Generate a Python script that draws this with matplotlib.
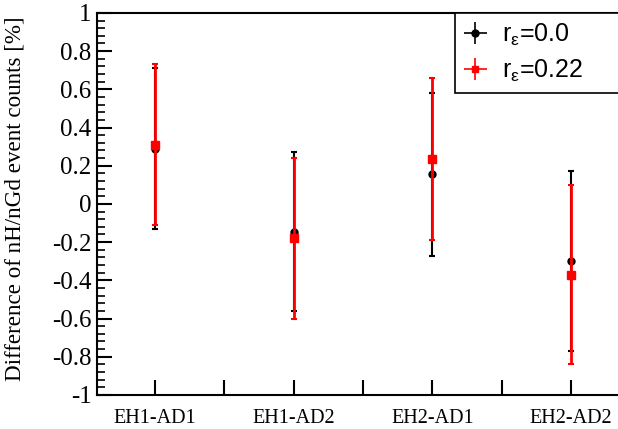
import numpy as np
import matplotlib
matplotlib.use('Agg')
import matplotlib.pyplot as plt
from matplotlib.ticker import MultipleLocator
from matplotlib.legend_handler import HandlerErrorbar
from matplotlib.patches import Rectangle

plt.rcParams['mathtext.fontset'] = 'custom'
plt.rcParams['mathtext.rm'] = 'Liberation Sans'
plt.rcParams['mathtext.it'] = 'Liberation Sans'

# values
labels = ['EH1-AD1', 'EH1-AD2', 'EH2-AD1', 'EH2-AD2']
diff_r0 = [0.29, -0.145, 0.155, -0.30]
err_r0 = [0.42, 0.415, 0.425, 0.47]
diff_r22 = [0.31, -0.18, 0.235, -0.37]
err_r22 = [0.42, 0.42, 0.425, 0.47]

x = np.arange(len(labels))

fig = plt.figure(figsize=(6.18, 4.29), dpi=100)
ax = fig.add_axes([0.157, 0.0793, 0.843, 0.8907])

ax.errorbar(x, diff_r0, yerr=err_r0, fmt='o', color='black', ms=5,
            elinewidth=1.5, capsize=2.5, capthick=1.5, zorder=3)
ax.errorbar(x, diff_r22, yerr=err_r22, fmt='s', color='red', ms=5.5,
            elinewidth=2, capsize=2.5, capthick=1.5, zorder=4)

# proxies for the ROOT-style "lep" legend entries (cross + marker)
h0 = ax.errorbar([], [], xerr=[], yerr=[], fmt='o', color='black', ms=5,
                 elinewidth=1.2, capsize=0)
h1 = ax.errorbar([], [], xerr=[], yerr=[], fmt='s', color='red', ms=5,
                 elinewidth=1.2, capsize=0)

ax.set_xlim(-0.418, 3.338)
ax.set_ylim(-1, 1)

ax.set_xticks(np.arange(0, 3.01, 0.5))
ax.set_xticklabels(['EH1-AD1', '', 'EH1-AD2', '', 'EH2-AD1', '', 'EH2-AD2'],
                   family='Liberation Serif', fontsize=14.5)
ax.yaxis.set_minor_locator(MultipleLocator(0.04))
ax.set_yticks(np.arange(-1, 1.01, 0.2))
ax.set_yticklabels(['-1', '-0.8', '-0.6', '-0.4', '-0.2', '0', '0.2', '0.4',
                    '0.6', '0.8', '1'], family='Liberation Serif', fontsize=18)

ax.tick_params(axis='both', which='major', direction='in', length=11, width=1.5,
               color='black')
ax.tick_params(axis='y', which='major', pad=4)
ax.tick_params(axis='y', which='minor', direction='in', length=6, width=1.2)
ax.tick_params(axis='x', which='major', pad=10)

for s in ['left', 'bottom', 'top']:
    ax.spines[s].set_linewidth(1.5)
ax.spines['right'].set_visible(False)

ax.set_ylabel('Difference of nH/nGd event counts [%]', family='Liberation Serif',
              fontsize=16.6)
ax.yaxis.set_label_coords(-0.138, 0.513)

# legend box drawn by hand so it runs to the right edge like the original
ax.add_patch(Rectangle((0.687, 0.79), 0.32, 0.21, transform=ax.transAxes,
                       facecolor='white', edgecolor='black', lw=1.2,
                       clip_on=False, zorder=5))
leg = ax.legend([h0, h1], [r'r$_{\mathrm{ε}}$=0.0', r'r$_{\mathrm{ε}}$=0.22'],
                loc='upper left', bbox_to_anchor=(0.671, 1.0), borderaxespad=0,
                prop={'family': 'Liberation Sans', 'size': 18},
                handler_map={type(h0): HandlerErrorbar(xerr_size=0.45)},
                handlelength=1.6, handletextpad=0.25, labelspacing=0.4,
                borderpad=0.35, frameon=False)
leg.set_zorder(6)

fig.savefig('out.png', dpi=100)
